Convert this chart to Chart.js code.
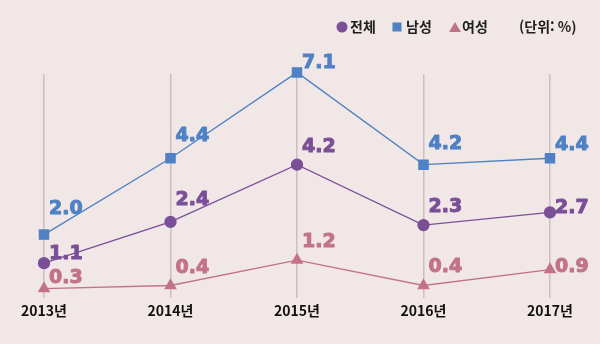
<!DOCTYPE html>
<html lang="ko">
<head>
<meta charset="utf-8">
<script src="https://cdn.jsdelivr.net/npm/chart.js@4/dist/chart.umd.min.js"></script>
<style>
    html, body { margin: 0; padding: 0; background: #f0e7e6; }
    #wrap { width: 600px; height: 344px; }
</style>
</head>
<body>
<div id="wrap"><canvas id="rateChart"></canvas></div>
<script>
// 데이터
const years = ['2013년', '2014년', '2015년', '2016년', '2017년'];
const totalRate = [1.1, 2.4, 4.2, 2.3, 2.7];   // 전체
const maleRate = [2.0, 4.4, 7.1, 4.2, 4.4];    // 남성
const femaleRate = [0.3, 0.4, 1.2, 0.4, 0.9];  // 여성

const BLUE = '#4f81c4';
const PURPLE = '#7a4f98';
const PINK = '#c27389';

// 값 라벨 위치 보정 (텍스트 중심의 세로 오프셋)
const labelOffsets = {
    '전체': [-9, -22, -17.5, -18, -4],
    '남성': [-25.5, -22.5, -9, -21, -13],
    '여성': [-10.5, -17, -18, -18, -3]
};

// 값 라벨 그리기
const valueLabels = {
    id: 'valueLabels',
    afterDatasetsDraw(chart) {
        const ctx = chart.ctx;
        ctx.save();
        ctx.font = 'bold 19px "DejaVu Sans"';
        ctx.textAlign = 'left';
        ctx.textBaseline = 'middle';
        ctx.lineWidth = 1;
        ctx.lineJoin = 'round';
        chart.data.datasets.forEach((ds, i) => {
            const meta = chart.getDatasetMeta(i);
            const offs = labelOffsets[ds.label];
            meta.data.forEach((pt, j) => {
                const txt = ds.data[j].toFixed(1);
                ctx.fillStyle = ds.borderColor;
                ctx.strokeStyle = ds.borderColor;
                ctx.fillText(txt, pt.x + 5, pt.y + offs[j]);
                ctx.strokeText(txt, pt.x + 5, pt.y + offs[j]);
            });
        });
        ctx.restore();
    }
};

// 범례 그리기 (단위 포함)
const topLegend = {
    id: 'topLegend',
    afterDraw(chart) {
        const ctx = chart.ctx;
        const y = 27;
        ctx.save();
        ctx.font = 'bold 14px "Noto Sans CJK KR"';
        ctx.textBaseline = 'middle';
        ctx.textAlign = 'left';

        ctx.fillStyle = PURPLE;
        ctx.beginPath();
        ctx.arc(342, y, 5.5, 0, Math.PI * 2);
        ctx.fill();
        ctx.fillStyle = '#1e1e1e';
        ctx.fillText('전체', 350, y);

        ctx.fillStyle = BLUE;
        ctx.fillRect(392.5, y - 4.5, 9, 9);
        ctx.fillStyle = '#1e1e1e';
        ctx.fillText('남성', 406, y);

        ctx.fillStyle = PINK;
        ctx.beginPath();
        ctx.moveTo(455, y - 5);
        ctx.lineTo(461, y + 5);
        ctx.lineTo(449, y + 5);
        ctx.closePath();
        ctx.fill();
        ctx.fillStyle = '#1e1e1e';
        ctx.fillText('여성', 462, y);

        ctx.fillText('(단위: %)', 519, y);
        ctx.restore();
    }
};

const ctx = document.getElementById('rateChart').getContext('2d');
const rateChart = new Chart(ctx, {
    type: 'line',
    data: {
        labels: years,
        datasets: [{
            label: '전체',
            data: totalRate,
            borderColor: PURPLE,
            backgroundColor: PURPLE,
            borderWidth: 1.3,
            pointStyle: 'circle',
            pointRadius: 5.5,
            pointHoverRadius: 5.5,
            tension: 0
        }, {
            label: '남성',
            data: maleRate,
            borderColor: BLUE,
            backgroundColor: BLUE,
            borderWidth: 1.3,
            pointStyle: 'rect',
            pointRadius: 6.5,
            pointHoverRadius: 6.5,
            tension: 0
        }, {
            label: '여성',
            data: femaleRate,
            borderColor: PINK,
            backgroundColor: PINK,
            borderWidth: 1.3,
            pointStyle: 'triangle',
            pointRadius: 6,
            pointHoverRadius: 6,
            tension: 0
        }]
    },
    options: {
        responsive: true,
        maintainAspectRatio: false,
        animation: false,
        clip: false,
        layout: {
            padding: { top: 74, left: 44, right: 50, bottom: 21 }
        },
        plugins: {
            legend: { display: false },
            tooltip: { enabled: false }
        },
        scales: {
            x: {
                offset: false,
                grid: {
                    color: '#c8c1c0',
                    lineWidth: 1.5,
                    drawTicks: false
                },
                border: { display: false },
                ticks: {
                    color: '#111',
                    padding: 4,
                    font: { family: '"Noto Sans CJK KR"', size: 14, weight: 'bold' }
                }
            },
            y: {
                display: false,
                min: 0,
                max: 7.05
            }
        }
    },
    plugins: [valueLabels, topLegend]
});
</script>
</body>
</html>
